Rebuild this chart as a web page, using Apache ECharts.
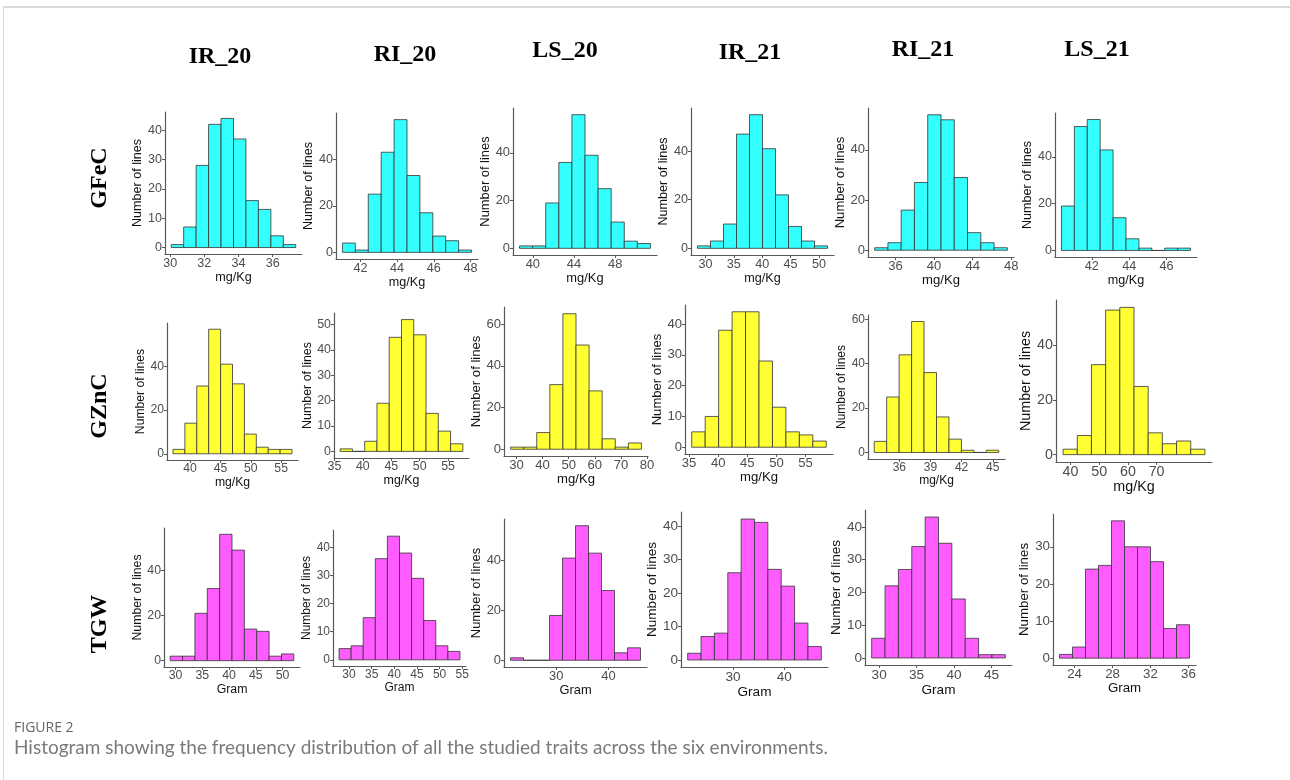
<!DOCTYPE html>
<html><head><meta charset="utf-8">
<script src="https://cdn.jsdelivr.net/npm/echarts@6/dist/echarts.min.js"></script>
<style>html,body{margin:0;padding:0;background:#fff}#c{width:1290px;height:780px}</style>
</head><body><div id="c"></div>
<script>
// ---------- DATA ----------
const environments = ['IR_20', 'RI_20', 'LS_20', 'IR_21', 'RI_21', 'LS_21'];
const traits = ['GFeC', 'GZnC', 'TGW'];
const xTitles = ['mg/Kg', 'mg/Kg', 'Gram'];
const yTitle = 'Number of lines';

// GFeC histograms: first bin edge, bin width, counts per bin
const gfecStart = [30.06, 41.02, 38.71, 28.6, 33.84, 40.38];
const gfecWidth = [0.729, 0.704, 1.271, 2.29, 1.375, 0.69];
const gfecCounts = [
  [1, 7, 28, 42, 44, 37, 16, 13, 4, 1],
  [4, 1, 25, 43, 57, 33, 17, 7, 5, 1],
  [1, 1, 19, 36, 56, 39, 25, 11, 3, 2],
  [1, 3, 10, 47, 55, 41, 22, 9, 3, 1],
  [1, 3, 16, 27, 54, 52, 29, 7, 3, 1],
  [19, 53, 56, 43, 14, 5, 1, 0, 1, 1]
];
const gfecXTicks = [[30, 32, 34, 36], [42, 44, 46, 48], [40, 44, 48], [30, 35, 40, 45, 50], [36, 40, 44, 48], [42, 44, 46]];
const gfecYTicks = [[0, 10, 20, 30, 40], [0, 20, 40], [0, 20, 40], [0, 20, 40], [0, 20, 40], [0, 20, 40]];

// GZnC histograms
const gzncStart = [37.17, 36.0, 27.75, 35.46, 33.58, 37.42];
const gzncWidth = [1.963, 2.16, 5.01, 2.31, 1.2, 4.94];
const gzncCounts = [
  [2, 14, 31, 57, 41, 32, 9, 3, 2, 2],
  [1, 0, 4, 19, 45, 52, 46, 15, 8, 3],
  [1, 1, 8, 31, 65, 50, 28, 5, 1, 3],
  [5, 10, 38, 44, 44, 28, 13, 5, 4, 2],
  [5, 25, 44, 59, 36, 16, 6, 1, 0, 1],
  [2, 7, 33, 53, 54, 25, 8, 4, 5, 2]
];
const gzncXTicks = [[40, 45, 50, 55], [35, 40, 45, 50, 55], [30, 40, 50, 60, 70, 80], [35, 40, 45, 50, 55], [36, 39, 42, 45], [40, 50, 60, 70]];
const gzncYTicks = [[0, 20, 40], [0, 10, 20, 30, 40, 50], [0, 20, 40, 60], [0, 10, 20, 30, 40], [0, 20, 40, 60], [0, 20, 40]];

// TGW histograms
const tgwStart = [29.0, 27.8, 21.25, 21.14, 29.0, 22.41];
const tgwWidth = [2.31, 2.67, 2.49, 2.61, 1.785, 1.37];
const tgwCounts = [
  [2, 2, 21, 32, 56, 49, 14, 13, 2, 3],
  [4, 5, 15, 36, 44, 38, 29, 14, 5, 3],
  [1, 0, 0, 18, 41, 54, 43, 28, 3, 5],
  [2, 7, 8, 26, 42, 41, 27, 22, 11, 4],
  [6, 22, 27, 34, 43, 35, 18, 6, 1, 1],
  [1, 3, 24, 25, 37, 30, 30, 26, 8, 9]
];
const tgwXTicks = [[30, 35, 40, 45, 50], [30, 35, 40, 45, 50, 55], [30, 40], [30, 40], [30, 35, 40, 45], [24, 28, 32, 36]];
const tgwYTicks = [[0, 20, 40], [0, 10, 20, 30, 40], [0, 20, 40], [0, 10, 20, 30, 40], [0, 10, 20, 30, 40], [0, 10, 20, 30]];

const captionLabel = 'FIGURE 2';
const captionText = 'Histogram showing the frequency distribution of all the studied traits across the six environments.';

// ---------- STYLE / LAYOUT ----------
const fills = ['#33ffff', '#ffff33', '#ff5cff'];
const boxes = [ // panel [left, top, right, bottom]
  [165, 112, 302, 254], [336, 113, 478, 259], [513, 108, 657, 255], [691, 108, 834, 255], [868, 108, 1014, 257], [1055, 113, 1197, 257],
  [167, 323, 298, 460], [334, 313, 469, 458], [504, 307, 648, 456], [685, 305, 833, 454], [868, 315, 1005, 459], [1056, 300, 1212, 462],
  [164, 528, 300, 667], [333, 530, 466, 666], [504, 519, 647, 667], [681, 512, 828, 667], [865, 510, 1012, 665], [1053, 514, 1196, 665]
];
const nameSizes = [12.6, 12.6, 12.9, 12.6, 13.1, 12.6, 12.2, 12.4, 13.1, 13.1, 12.0, 14.3, 12.3, 12.0, 12.9, 13.6, 13.6, 13.3];
const headerPos = [[220, 57], [405, 55], [565, 51], [750, 53], [923, 50], [1097, 50]];
const rowLabelPos = [[100, 178], [100, 406], [100, 624]];

const sets = [
  { start: gfecStart, width: gfecWidth, counts: gfecCounts, xt: gfecXTicks, yt: gfecYTicks },
  { start: gzncStart, width: gzncWidth, counts: gzncCounts, xt: gzncXTicks, yt: gzncYTicks },
  { start: tgwStart, width: tgwWidth, counts: tgwCounts, xt: tgwXTicks, yt: tgwYTicks }
];

const grids = [], xAxes = [], yAxes = [], series = [];
const axisGray = '#595959', labelGray = '#4d4d4d';
for (let r = 0; r < 3; r++) {
  for (let c = 0; c < 6; c++) {
    const i = r * 6 + c;
    const s = sets[r];
    const b0 = s.start[c], bw = s.width[c], counts = s.counts[c];
    const bEnd = b0 + bw * counts.length;
    const xr = bEnd - b0;
    const ymax = Math.max(...counts);
    const [L, T, R, B] = boxes[i];
    const ns = nameSizes[i];
    const ts = ns;
    grids.push({ left: L, top: T, width: R - L, height: B - T });
    xAxes.push({
      type: 'value', gridIndex: i,
      min: b0 - 0.05 * xr, max: bEnd + 0.05 * xr,
      axisLine: { onZero: false, lineStyle: { color: axisGray, width: 1.2 } },
      axisTick: { show: true, customValues: s.xt[c], length: 3, lineStyle: { color: axisGray } },
      axisLabel: { customValues: s.xt[c], margin: 3, color: labelGray, fontSize: ts, fontFamily: 'Liberation Sans' },
      splitLine: { show: false },
      name: xTitles[r], nameLocation: 'middle', nameGap: ts + 4,
      nameTextStyle: { color: '#111', fontSize: ns, fontFamily: 'Liberation Sans' }
    });
    yAxes.push({
      type: 'value', gridIndex: i,
      min: -0.05 * ymax, max: 1.05 * ymax,
      axisLine: { show: true, onZero: false, lineStyle: { color: axisGray, width: 1.2 } },
      axisTick: { show: true, customValues: s.yt[c], length: 3, lineStyle: { color: axisGray } },
      axisLabel: { customValues: s.yt[c], margin: 3, color: labelGray, fontSize: ts, fontFamily: 'Liberation Sans' },
      splitLine: { show: false },
      name: yTitle, nameLocation: 'middle', nameRotate: 90, nameGap: ts * 1.12 + 3.5,
      nameTextStyle: { color: '#111', fontSize: ns, fontFamily: 'Liberation Sans' }
    });
    const fill = fills[r];
    series.push({
      type: 'custom', xAxisIndex: i, yAxisIndex: i, silent: true, animation: false,
      encode: { x: [0, 1], y: 2 },
      data: counts.map((v, k) => [b0 + k * bw, b0 + (k + 1) * bw, v]),
      renderItem: function (params, api) {
        const p0 = api.coord([api.value(0), api.value(2)]);
        const p1 = api.coord([api.value(1), 0]);
        return {
          type: 'rect',
          shape: { x: p0[0], y: p0[1], width: p1[0] - p0[0], height: p1[1] - p0[1] },
          style: { fill: fill, stroke: '#333333', lineWidth: 0.8 }
        };
      }
    });
  }
}

const graphics = [
  { type: 'line', shape: { x1: 3, y1: 7, x2: 1290, y2: 7 }, style: { stroke: '#d9d9d9', lineWidth: 2 } },
  { type: 'line', shape: { x1: 3.5, y1: 7, x2: 3.5, y2: 780 }, style: { stroke: '#d9d9d9', lineWidth: 1 } },
  { type: 'text', x: 14, y: 728, style: { text: captionLabel, font: '14px "Open Sans"', fill: '#666', verticalAlign: 'middle' } },
  { type: 'text', x: 14, y: 748, style: { text: captionText, font: '19px Lato', fill: '#7a7a7a', verticalAlign: 'middle' } }
];
environments.forEach((e, k) => {
  graphics.push({ type: 'text', x: headerPos[k][0], y: headerPos[k][1],
    style: { text: e, font: 'bold 24px "Liberation Serif"', fill: '#000', align: 'center', verticalAlign: 'middle' } });
});
traits.forEach((t, k) => {
  graphics.push({ type: 'text', x: rowLabelPos[k][0], y: rowLabelPos[k][1], rotation: Math.PI / 2,
    style: { text: t, font: 'bold 24px "Liberation Serif"', fill: '#000', align: 'center', verticalAlign: 'middle' } });
});

const chart = echarts.init(document.getElementById('c'), null, { renderer: 'canvas' });
chart.setOption({
  backgroundColor: '#ffffff',
  animation: false,
  grid: grids, xAxis: xAxes, yAxis: yAxes, series: series,
  graphic: graphics
});
</script></body></html>
